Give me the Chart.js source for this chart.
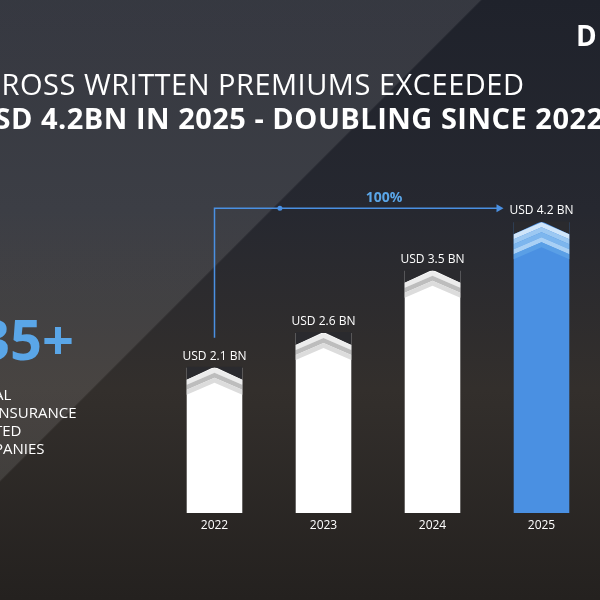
<!DOCTYPE html>
<html><head><meta charset="utf-8">
<script src="https://cdn.jsdelivr.net/npm/chart.js@4"></script>
<style>
html,body{margin:0;padding:0;background:#1b1f2a;}
#wrap{position:relative;width:600px;height:600px;overflow:hidden;
 background:linear-gradient(180deg,#1f222b 0%,#262830 35%,#332f2c 65%,#24211f 100%);}
#wrap:before{content:"";position:absolute;left:0;top:0;width:600px;height:600px;
 background:linear-gradient(135deg,rgba(255,255,255,0.10) 0%,rgba(255,255,255,0.10) 40%,rgba(0,0,0,0) 40.2%);}
.t{position:absolute;color:#fff;font-family:"Open Sans",sans-serif;white-space:nowrap;}
canvas{position:absolute;left:0;top:0;}
</style></head>
<body><div id="wrap">
<canvas id="gwpChart" width="600" height="600"></canvas>
<div class="t" style="left:-20px;top:64px;font-size:29px;letter-spacing:0.5px">GROSS WRITTEN PREMIUMS EXCEEDED</div>
<div class="t" style="left:-28px;top:98px;font-size:29px;font-weight:bold;letter-spacing:0.5px">USD 4.2BN IN 2025 - DOUBLING SINCE 2022</div>
<div class="t" style="left:576px;top:16px;font-size:28px;font-weight:bold">D</div>
<div class="t" style="left:-22px;top:300px;font-size:56px;font-weight:bold;color:#5aa6e8">35+</div>
<div class="t" style="left:-6px;top:385px;font-size:15px;line-height:18px">AL<br>INSURANCE<br>TED<br>PANIES</div>
</div>
<script>
// Gross written premiums, USD bn
const years = ['2022', '2023', '2024', '2025'];
const premiums = [2.1, 2.6, 3.5, 4.2];
const valueLabels = ['USD 2.1 BN', 'USD 2.6 BN', 'USD 3.5 BN', 'USD 4.2 BN'];
const growthLabel = '100%';

const barColors = ['#ffffff', '#ffffff', '#ffffff', '#4a90e2'];

const decor = {
    id: 'decor',
    afterDatasetsDraw(chart) {
        const ctx = chart.ctx;
        const bars = chart.getDatasetMeta(0).data;
        const xs = chart.scales.x;
        ctx.save();
        bars.forEach(function(b, i) {
            const w = b.width, l = b.x - w / 2, r = b.x + w / 2;
            const blue = i === 3;
            // chevron stripes, peak at the bar top
            const cols = blue ? ['#cfe5fa', '#9cc8f2', '#7db6ee', '#a9d0f5', '#5a9fe6'] : ['#ececec', '#bdbdbd', '#dcdcdc'];
            ctx.fillStyle = '#2a2a2e';
            ctx.beginPath();
            ctx.moveTo(l, b.y - 1); ctx.lineTo(b.x, b.y - 1); ctx.lineTo(l, b.y + 12);
            ctx.moveTo(r, b.y - 1); ctx.lineTo(b.x, b.y - 1); ctx.lineTo(r, b.y + 12);
            ctx.fill();
            for (let k = 0; k < cols.length; k++) {
                const y = b.y + k * 5;
                ctx.beginPath();
                ctx.moveTo(l, y + 12);
                ctx.lineTo(b.x, y);
                ctx.lineTo(r, y + 12);
                ctx.lineTo(r, y + 17);
                ctx.lineTo(b.x, y + 5);
                ctx.lineTo(l, y + 17);
                ctx.closePath();
                ctx.fillStyle = cols[k];
                ctx.fill();
            }
            ctx.fillStyle = '#fff';
            ctx.font = '12px "Open Sans", sans-serif';
            ctx.textAlign = 'center';
            ctx.fillText(valueLabels[i], b.x, b.y - 8);
            ctx.fillText(years[i], xs.getPixelForValue(i), chart.chartArea.bottom + 16);
        });
        // growth arrow from first to last
        const a = bars[0], z = bars[3];
        const yTop = z.y - 14;
        ctx.strokeStyle = '#4a90e2';
        ctx.lineWidth = 1.5;
        ctx.beginPath();
        ctx.moveTo(a.x, a.y - 30);
        ctx.lineTo(a.x, yTop);
        ctx.lineTo(z.x - 44, yTop);
        ctx.stroke();
        ctx.fillStyle = '#4a90e2';
        ctx.beginPath();
        ctx.moveTo(z.x - 38, yTop);
        ctx.lineTo(z.x - 45, yTop - 4);
        ctx.lineTo(z.x - 45, yTop + 4);
        ctx.fill();
        ctx.beginPath();
        ctx.arc(xs.getPixelForValue(0.6), yTop, 2.5, 0, Math.PI * 2);
        ctx.fill();
        ctx.font = 'bold 14px "Open Sans", sans-serif';
        ctx.fillStyle = '#5aa6e8';
        ctx.fillText(growthLabel, (a.x + z.x) / 2 + 6, yTop - 6);
        ctx.restore();
    }
};

const canvas = document.getElementById('gwpChart');
if (canvas) {
    new Chart(canvas.getContext('2d'), {
        type: 'bar',
        data: {
            labels: years,
            datasets: [{
                data: premiums,
                backgroundColor: barColors,
                barPercentage: 0.51,
                categoryPercentage: 1
            }]
        },
        options: {
            responsive: false,
            animation: false,
            layout: { padding: { left: 160, right: 4, top: 167, bottom: 87 } },
            scales: {
                x: { display: false },
                y: { display: false, min: 0, max: 5 }
            },
            plugins: { legend: { display: false }, tooltip: { enabled: false } }
        },
        plugins: [decor]
    });
}
</script>
</body></html>
